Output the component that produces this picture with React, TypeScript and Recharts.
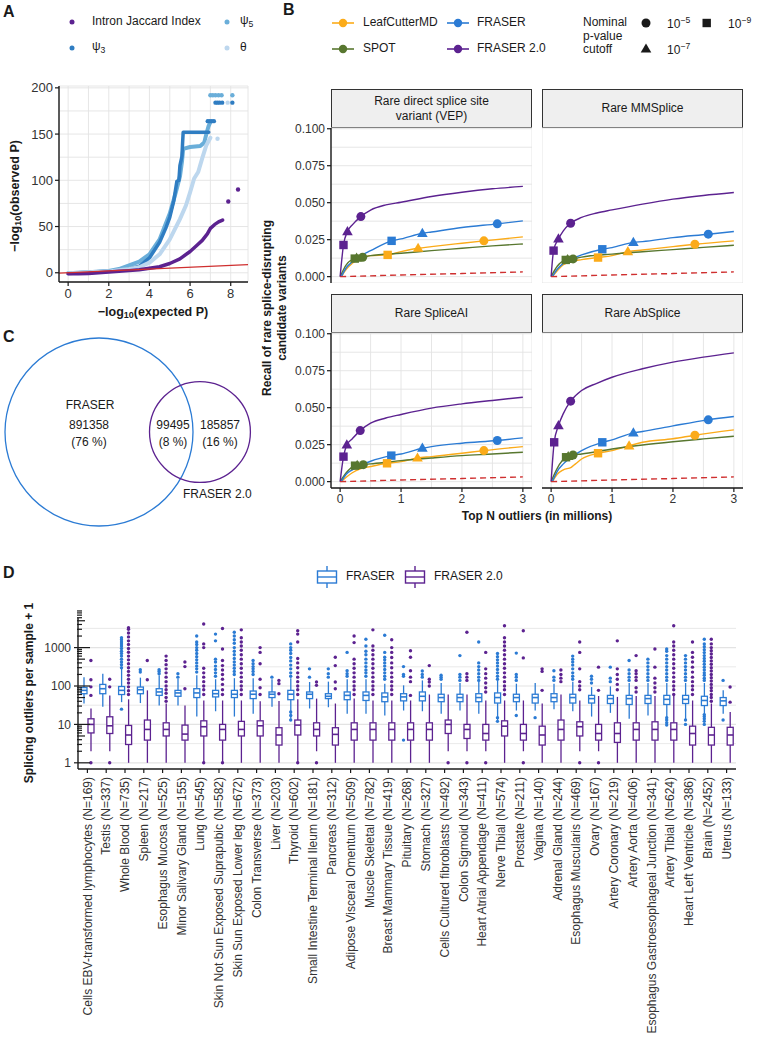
import React from 'react';
import { ComposedChart, Line, Scatter, Bar, XAxis, YAxis, CartesianGrid, ReferenceLine } from 'recharts';

const FONT = '"Liberation Sans", Arial, Helvetica, sans-serif';
const INK = '#1a1a1a';
const TICK_INK = '#333333';
const GRID = '#e3e3e3';
const AXIS = { stroke: INK, strokeWidth: 1.4 };

const BLUE = '#2b7bd4';
const PURPLE = '#5c2290';
const ORANGE = '#fbab19';
const GREEN = '#58772f';
const RED = '#cf2f2f';
const PSI3 = '#2f7dc2';
const PSI5 = '#6aaed9';
const THETA = '#bdd7ee';

// ---------------- A: QQ plot (expected vs observed -log10 P) ----------------
const qqLine = [[-0.45, -0.45], [8.85, 8.85]];
const qqJaccard = [[0, -1], [0.5, -1.2], [1, -0.8], [1.5, 0], [2, 0.8], [2.5, 1.5], [3, 2.3], [3.5, 3.2], [4, 4.8], [4.5, 6.5], [5, 10], [5.5, 15], [6, 23], [6.3, 29], [6.6, 35], [6.85, 42], [7.0, 48], [7.2, 52], [7.4, 55], [7.6, 57]];
const qqJaccardTop = [[7.88, 77], [8.36, 90]];
const qqPsi3 = [[0, -0.5], [1, 0.5], [2, 1.8], [2.5, 2.5], [3, 4], [3.5, 7], [4, 16], [4.5, 33], [4.8, 48], [5, 60], [5.2, 78], [5.35, 99], [5.45, 100], [5.5, 116], [5.6, 126], [5.63, 140], [5.66, 152], [6, 152], [6.5, 152], [6.92, 152]];
const qqPsi3Top = [[6.87, 164], [6.97, 164], [7.07, 164], [7.17, 164], [7.25, 184], [7.35, 184], [7.45, 184], [7.58, 184], [8.08, 184]];
const qqPsi5 = [[0, -0.5], [1, 0.5], [2, 2], [2.5, 4], [3, 8], [3.5, 12], [4, 20], [4.5, 36], [5, 64], [5.3, 87], [5.5, 104], [5.6, 120], [5.66, 134], [6, 136], [6.5, 137], [6.7, 141], [6.8, 150], [6.9, 158], [7.0, 163]];
const qqPsi5Top = [[7.0, 192], [7.12, 192], [7.25, 192], [7.4, 192], [7.55, 192], [8.08, 192]];
const qqTheta = [[0, -0.5], [1, 0.5], [2, 1.5], [3, 4], [3.5, 6], [4, 11], [4.5, 20], [5, 36], [5.5, 58], [5.8, 73], [6, 87], [6.2, 102], [6.4, 109], [6.6, 124], [6.8, 138], [7.0, 146]];
const qqThetaTop = [[7.35, 145], [7.85, 184]];
const aXTicks = [0, 1, 2, 3, 4, 5, 6, 7, 8];
const aXLabels = [0, 2, 4, 6, 8];
const aYTicks = [0, 25, 50, 75, 100, 125, 150, 175, 200];
const aYLabels = [0, 50, 100, 150, 200];

// ---------------- B: recall curves ----------------
const bXTicks = [0, 0.5, 1, 1.5, 2, 2.5, 3];
const bXLabels = [0, 1, 2, 3];
const bYTicks = [0, 0.0125, 0.025, 0.0375, 0.05, 0.0625, 0.075, 0.0875, 0.1];
const bYLabels = [0, 0.025, 0.05, 0.075, 0.1];
const randomBaseline = [[0, 0], [1, 0.0011], [2, 0.0021], [3, 0.0032]];

const vepLeaf = [[0.02, 0], [0.1, 0.005], [0.2, 0.009], [0.33, 0.0124], [0.5, 0.0142], [0.78, 0.0147], [1, 0.0169], [1.28, 0.0192], [1.5, 0.0203], [2, 0.0226], [2.36, 0.0242], [3, 0.0269]];
const vepSpot = [[0, 0], [0.1, 0.008], [0.24, 0.0122], [0.27, 0.0125], [0.37, 0.0131], [0.5, 0.0142], [1, 0.0158], [1.5, 0.0176], [2, 0.0192], [2.5, 0.0208], [3, 0.0221]];
const vepFraser = [[0.02, 0], [0.1, 0.006], [0.2, 0.01], [0.33, 0.014], [0.5, 0.0176], [0.845, 0.0242], [1, 0.0255], [1.35, 0.0293], [1.5, 0.0302], [2, 0.0332], [2.58, 0.0357], [3, 0.0377]];
const vepFraser2 = [[0, 0], [0.055, 0.0214], [0.12, 0.0305], [0.2, 0.035], [0.34, 0.0406], [0.5, 0.045], [0.75, 0.0485], [1, 0.0503], [1.5, 0.0542], [2, 0.0571], [2.5, 0.0594], [3, 0.061]];
const vepMarks = [
  [0.055, 0.0214, 'FRASER 2.0', '1e-9'], [0.12, 0.0305, 'FRASER 2.0', '1e-7'], [0.34, 0.0406, 'FRASER 2.0', '1e-5'],
  [0.845, 0.0242, 'FRASER', '1e-9'], [1.35, 0.0293, 'FRASER', '1e-7'], [2.58, 0.0357, 'FRASER', '1e-5'],
  [0.78, 0.0147, 'LeafCutterMD', '1e-9'], [1.28, 0.0192, 'LeafCutterMD', '1e-7'], [2.36, 0.0242, 'LeafCutterMD', '1e-5'],
  [0.24, 0.0122, 'SPOT', '1e-9'], [0.27, 0.0125, 'SPOT', '1e-7'], [0.37, 0.0131, 'SPOT', '1e-5'],
];

const mmsLeaf = [[0.02, 0], [0.1, 0.004], [0.2, 0.008], [0.33, 0.0102], [0.5, 0.0115], [0.77, 0.0129], [1, 0.0142], [1.26, 0.0169], [1.5, 0.018], [2, 0.0203], [2.36, 0.0219], [3, 0.0242]];
const mmsSpot = [[0, 0], [0.1, 0.007], [0.24, 0.0113], [0.27, 0.0116], [0.36, 0.012], [0.5, 0.0132], [1, 0.0152], [1.5, 0.0168], [2, 0.0183], [2.5, 0.0198], [3, 0.0212]];
const mmsFraser = [[0.02, 0], [0.1, 0.005], [0.2, 0.009], [0.33, 0.012], [0.5, 0.0147], [0.84, 0.0185], [1, 0.0196], [1.35, 0.0232], [1.5, 0.0237], [2, 0.0264], [2.58, 0.0287], [3, 0.0305]];
const mmsFraser2 = [[0, 0], [0.04, 0.0176], [0.12, 0.0255], [0.2, 0.031], [0.32, 0.0361], [0.5, 0.04], [0.75, 0.043], [1, 0.0451], [1.5, 0.049], [2, 0.0524], [2.5, 0.0549], [3, 0.0569]];
const mmsMarks = [
  [0.04, 0.0176, 'FRASER 2.0', '1e-9'], [0.12, 0.0255, 'FRASER 2.0', '1e-7'], [0.32, 0.0361, 'FRASER 2.0', '1e-5'],
  [0.84, 0.0185, 'FRASER', '1e-9'], [1.35, 0.0232, 'FRASER', '1e-7'], [2.58, 0.0287, 'FRASER', '1e-5'],
  [0.77, 0.0129, 'LeafCutterMD', '1e-9'], [1.26, 0.0169, 'LeafCutterMD', '1e-7'], [2.36, 0.0219, 'LeafCutterMD', '1e-5'],
  [0.24, 0.0113, 'SPOT', '1e-9'], [0.27, 0.0116, 'SPOT', '1e-7'], [0.36, 0.012, 'SPOT', '1e-5'],
];

const saiLeaf = [[0.02, 0], [0.1, 0.003], [0.2, 0.006], [0.33, 0.0086], [0.5, 0.0102], [0.77, 0.0124], [1, 0.0135], [1.27, 0.016], [1.5, 0.0169], [2, 0.0192], [2.36, 0.021], [3, 0.0237]];
const saiSpot = [[0, 0], [0.1, 0.006], [0.245, 0.0108], [0.28, 0.011], [0.38, 0.0115], [0.5, 0.012], [1, 0.0142], [1.5, 0.016], [2, 0.0176], [2.5, 0.0187], [3, 0.0199]];
const saiFraser = [[0.02, 0], [0.1, 0.005], [0.2, 0.008], [0.33, 0.0108], [0.5, 0.0138], [0.84, 0.0176], [1, 0.0187], [1.35, 0.0226], [1.5, 0.0237], [2, 0.026], [2.58, 0.0278], [3, 0.0296]];
const saiFraser2 = [[0, 0], [0.055, 0.0169], [0.11, 0.0248], [0.2, 0.029], [0.33, 0.0345], [0.5, 0.0395], [0.75, 0.043], [1, 0.0454], [1.5, 0.0497], [2, 0.0526], [2.5, 0.0549], [3, 0.0571]];
const saiMarks = [
  [0.055, 0.0169, 'FRASER 2.0', '1e-9'], [0.11, 0.0248, 'FRASER 2.0', '1e-7'], [0.33, 0.0345, 'FRASER 2.0', '1e-5'],
  [0.84, 0.0176, 'FRASER', '1e-9'], [1.35, 0.0226, 'FRASER', '1e-7'], [2.58, 0.0278, 'FRASER', '1e-5'],
  [0.77, 0.0124, 'LeafCutterMD', '1e-9'], [1.27, 0.016, 'LeafCutterMD', '1e-7'], [2.36, 0.021, 'LeafCutterMD', '1e-5'],
  [0.245, 0.0108, 'SPOT', '1e-9'], [0.28, 0.011, 'SPOT', '1e-7'], [0.38, 0.0115, 'SPOT', '1e-5'],
];

const absLeaf = [[0.02, 0], [0.1, 0.005], [0.2, 0.008], [0.33, 0.0097], [0.4, 0.012], [0.5, 0.0153], [0.77, 0.0192], [1, 0.021], [1.28, 0.0242], [1.5, 0.0266], [2, 0.029], [2.36, 0.0314], [3, 0.035]];
const absSpot = [[0, 0], [0.1, 0.009], [0.245, 0.0165], [0.28, 0.017], [0.36, 0.018], [0.5, 0.0187], [1, 0.0221], [1.5, 0.0248], [2, 0.027], [2.5, 0.0289], [3, 0.0307]];
const absFraser = [[0.02, 0], [0.1, 0.007], [0.2, 0.012], [0.33, 0.0165], [0.5, 0.021], [0.84, 0.0266], [1, 0.0282], [1.35, 0.033], [1.5, 0.0339], [2, 0.0377], [2.58, 0.0418], [3, 0.044]];
const absFraser2 = [[0, 0], [0.05, 0.0266], [0.12, 0.0379], [0.2, 0.046], [0.32, 0.0544], [0.5, 0.0616], [0.75, 0.0665], [1, 0.0706], [1.5, 0.0763], [2, 0.0808], [2.5, 0.0842], [3, 0.0871]];
const absMarks = [
  [0.05, 0.0266, 'FRASER 2.0', '1e-9'], [0.12, 0.0379, 'FRASER 2.0', '1e-7'], [0.32, 0.0544, 'FRASER 2.0', '1e-5'],
  [0.84, 0.0266, 'FRASER', '1e-9'], [1.35, 0.033, 'FRASER', '1e-7'], [2.58, 0.0418, 'FRASER', '1e-5'],
  [0.77, 0.0192, 'LeafCutterMD', '1e-9'], [1.28, 0.0242, 'LeafCutterMD', '1e-7'], [2.36, 0.0314, 'LeafCutterMD', '1e-5'],
  [0.245, 0.0165, 'SPOT', '1e-9'], [0.28, 0.017, 'SPOT', '1e-7'], [0.36, 0.018, 'SPOT', '1e-5'],
];

// ---------------- C: Venn ----------------
const vennNames = ['FRASER', 'FRASER 2.0'];
const vennCounts = [891358, 99495, 185857]; // FRASER only, both, FRASER 2.0 only

// ---------------- D: outliers per sample ----------------
const tissueNames = [
  'Cells EBV-transformed lymphocytes (N=169)', 'Testis (N=337)', 'Whole Blood (N=735)', 'Spleen (N=217)',
  'Esophagus Mucosa (N=525)', 'Minor Salivary Gland (N=155)', 'Lung (N=545)', 'Skin Not Sun Exposed Suprapubic (N=582)',
  'Skin Sun Exposed Lower leg (N=672)', 'Colon Transverse (N=373)', 'Liver (N=203)', 'Thyroid (N=602)',
  'Small Intestine Terminal Ileum (N=181)', 'Pancreas (N=312)', 'Adipose Visceral Omentum (N=509)', 'Muscle Skeletal (N=782)',
  'Breast Mammary Tissue (N=419)', 'Pituitary (N=268)', 'Stomach (N=327)', 'Cells Cultured fibroblasts (N=492)',
  'Colon Sigmoid (N=343)', 'Heart Atrial Appendage (N=411)', 'Nerve Tibial (N=574)', 'Prostate (N=211)',
  'Vagina (N=140)', 'Adrenal Gland (N=244)', 'Esophagus Muscularis (N=469)', 'Ovary (N=167)',
  'Artery Coronary (N=219)', 'Artery Aorta (N=406)', 'Esophagus Gastroesophageal Junction (N=341)', 'Artery Tibial (N=624)',
  'Heart Left Ventricle (N=386)', 'Brain (N=2452)', 'Uterus (N=133)',
];
// [lower whisker, Q1, median, Q3, upper whisker]
const fraserStats = [
  [35, 63, 77, 91, 170], [29, 63, 85, 110, 208], [38, 60, 77, 97, 280], [36, 63, 80, 94, 165],
  [31, 57, 70, 85, 190], [31, 54, 66, 77, 155], [16, 50, 66, 85, 190], [22, 52, 63, 77, 150],
  [16, 50, 61, 77, 160], [19, 47, 61, 74, 160], [29, 50, 61, 70, 150], [14, 44, 61, 77, 160],
  [26, 47, 61, 70, 127], [28, 47, 54, 63, 130], [19, 44, 57, 70, 150], [19, 42, 57, 70, 150],
  [17, 39, 52, 66, 115], [23, 41, 52, 63, 104], [22, 41, 54, 70, 140], [19, 39, 50, 61, 120],
  [23, 39, 50, 61, 120], [19, 39, 50, 63, 130], [13, 36, 50, 66, 140], [23, 39, 50, 61, 115],
  [23, 36, 50, 61, 120], [25, 39, 50, 63, 115], [22, 36, 50, 61, 130], [16, 36, 47, 57, 94],
  [20, 35, 47, 57, 98], [14, 33, 47, 57, 120], [17, 35, 47, 57, 120], [13, 33, 45, 57, 120],
  [13, 35, 45, 57, 120], [13, 31, 42, 54, 120], [19, 31, 41, 50, 77],
];
const fraser2Stats = [
  [2, 6, 10, 14, 26], [2, 5.8, 9.2, 15.8, 57], [1, 3, 5.3, 9.4, 45], [1, 3.9, 7.4, 13, 77],
  [1, 5, 7.4, 11, 35], [1, 3.9, 5.6, 9.6, 31], [1, 5, 8.7, 12.4, 42], [1, 3.9, 7.4, 10, 42],
  [1, 5, 7.4, 12, 42], [1, 5, 9.2, 12.4, 40], [1, 2.9, 5.3, 8.2, 41], [1, 5.3, 9.6, 13, 45],
  [2, 5, 7.4, 11, 47], [1, 2.9, 5.5, 8.2, 35], [1, 3.9, 7.4, 11, 47], [1, 3.9, 7.4, 11, 42],
  [1, 3.9, 7.4, 11, 42], [1, 3.9, 7.4, 11, 42], [1, 3.9, 7.4, 11, 60], [2, 5.8, 10, 13, 60],
  [2, 4.3, 7.4, 10, 60], [2, 3.9, 5.8, 10, 42], [1, 5, 9, 12.4, 42], [2, 3.9, 5.8, 10, 42],
  [1, 2.9, 5.3, 9, 35], [1, 3.9, 7.4, 13, 60], [2, 5, 8.7, 11.7, 42], [2, 3.9, 5.8, 10, 55],
  [1, 3.4, 5.8, 11, 52], [1, 3.9, 7.4, 11, 55], [1, 3.9, 7.4, 11.7, 55], [1, 3.9, 7.4, 11, 55],
  [1, 2.9, 5.8, 9, 42], [1, 2.9, 5.3, 8.4, 35], [1, 2.9, 5.3, 8.4, 21],
];
const fraserOutliers = [
  [], [], [25, 300, 360, 420, 500, 600, 700, 800, 950, 1100, 1250, 1400, 1600, 1800], [230, 265],
  [210, 240, 265], [170, 210], [230, 280, 330, 400, 480, 580, 700, 850, 1000, 1200, 1400, 2000], [180, 220, 270, 330, 420, 500, 1500, 2250],
  [200, 240, 290, 350, 420, 520, 650, 800, 1000, 1300, 1600, 2000, 2500], [200, 240, 280, 320, 380, 460], [170], [13, 17, 21, 180, 220, 280, 350, 450, 550, 700, 850, 1000, 1250],
  [170, 280], [170, 210, 280], [180, 210, 250, 750], [180, 220, 260, 320, 400, 500, 650, 800, 1100, 1650],
  [150, 180, 220, 270, 330, 400, 480, 560, 750, 2100], [3.9, 180, 200, 320], [170, 200, 245], [150, 170, 190],
  [140, 170, 200, 620], [140, 170, 210, 260, 320, 400, 1400], [12, 15, 150, 180, 220, 270, 330, 400, 480, 580, 700], [17, 140, 170, 200, 720],
  [15], [140, 170, 250], [150, 180, 220, 280, 350, 420, 500, 600], [120, 150, 180],
  [130, 160, 310], [140, 170, 210, 260, 460], [140, 170, 210, 260, 320, 400, 500], [9.6, 11, 13, 15, 140, 170, 210, 260, 320, 400, 500, 620, 800, 920],
  [10, 13, 140, 170, 210, 260, 320, 400, 500, 620], [10, 12, 14, 16, 18, 140, 160, 190, 220, 260, 310, 370, 440, 520, 620, 740, 880, 1050, 1250, 1650], [13, 140],
];
const fraser2Outliers = [
  [1, 57, 95, 145, 460], [1, 95, 150], [60, 75, 95, 120, 150, 190, 240, 300, 380, 480, 600, 760, 950, 1200, 1500, 1900, 2400, 3000, 3300], [145, 460],
  [40, 50, 65, 80, 100, 130, 170, 220, 280, 360, 460, 600], [85, 320, 420], [1, 60, 80, 100, 130, 170, 220, 290, 1000, 1250, 4100], [1, 60, 80, 110, 150, 200, 260, 340, 460, 920, 3150],
  [60, 80, 100, 130, 170, 220, 290, 380, 500, 650, 850, 1100, 1400, 1800, 2900], [60, 90, 150, 380, 750, 1000], [63, 115, 140], [1, 60, 80, 100, 130, 170, 220, 300, 400, 520, 1400, 2250, 2750],
  [1, 104, 127], [85, 127, 340, 560], [60, 80, 100, 130, 170, 220, 290, 380, 500, 1350, 2000], [60, 80, 100, 130, 170, 220, 290, 380, 500, 650, 850, 1100, 2900],
  [60, 80, 100, 130, 170, 220, 300, 400, 550, 750, 1000, 1600], [57, 130, 170, 250, 560, 830], [100, 127, 150, 340], [1],
  [1, 140, 170, 210, 2500], [1, 70, 90, 120, 160, 210, 280, 750], [60, 80, 100, 130, 170, 220, 290, 380, 500, 650, 850, 1100, 1400, 1800, 3700], [1, 540, 2750],
  [77, 240, 280], [130, 160, 200, 260], [1, 80, 100, 130, 280, 750, 1400], [1, 77, 310],
  [80, 110, 150, 200, 280, 1500], [70, 90, 140, 170, 210, 250, 620], [70, 90, 120, 160, 310, 920], [60, 80, 100, 130, 170, 220, 290, 380, 500, 650, 850, 1100, 1400, 3700],
  [60, 80, 100, 130, 170, 230, 310, 420, 560, 750, 1400], [40, 50, 60, 75, 90, 110, 135, 165, 200, 245, 300, 370, 450, 550, 680, 830, 1000, 1250, 1650], [38, 94],
];
const dDecades = [1, 10, 100, 1000];
const dMinorSteps = [2, 3, 4, 5, 6, 7, 8, 9];
const dGridBreaks = [1, 3.1623, 10, 31.623, 100, 316.23, 1000, 3162.3];

// ---------------- helpers ----------------
const pts = (a: number[][]) => a.map(([x, y]) => ({ x, y }));
const markPts = (a: any[][]) => a.map(([x, y, m, p]) => ({ x, y, m, p }));
const isIn = (list: number[], v: number) => list.some((m) => Math.abs(m - v) < 1e-9);

const METHOD_COLORS: Record<string, string> = { LeafCutterMD: ORANGE, SPOT: GREEN, FRASER: BLUE, 'FRASER 2.0': PURPLE };

const xTick = (labels: number[], fmt: (v: number) => string, fs: number) => (p: any) => {
  const v = p.payload.value;
  if (!isIn(labels, v)) return <g />;
  return (
    <g>
      <line x1={p.x} x2={p.x} y1={p.y} y2={p.y + 4} stroke={INK} strokeWidth={1.2} />
      <text x={p.x} y={p.y + 6} dy="0.75em" textAnchor="middle" fontSize={fs} fill={TICK_INK} fontFamily={FONT}>{fmt(v)}</text>
    </g>
  );
};
const yTick = (labels: number[], fmt: (v: number) => string, fs: number) => (p: any) => {
  const v = p.payload.value;
  if (!isIn(labels, v)) return <g />;
  return (
    <g>
      <line x1={p.x - 4} x2={p.x} y1={p.y} y2={p.y} stroke={INK} strokeWidth={1.2} />
      <text x={p.x - 6} y={p.y} dy="0.35em" textAnchor="end" fontSize={fs} fill={TICK_INK} fontFamily={FONT}>{fmt(v)}</text>
    </g>
  );
};
const dot = (r: number, color: string) => (p: any) => <circle cx={p.cx} cy={p.cy} r={r} fill={color} />;

const MarkShape = (p: any) => {
  const { cx, cy, payload } = p;
  const c = METHOD_COLORS[payload.m];
  if (payload.p === '1e-9') return <rect x={cx - 4.2} y={cy - 4.2} width={8.4} height={8.4} fill={c} />;
  if (payload.p === '1e-7') return <path d={`M${cx},${cy - 5.6}L${cx + 5.3},${cy + 3.6}L${cx - 5.3},${cy + 3.6}Z`} fill={c} />;
  return <circle cx={cx} cy={cy} r={4.5} fill={c} />;
};

type TP = { x: number; y: number; size?: number; bold?: boolean; align?: 'start' | 'middle' | 'end'; rotate?: number; color?: string; children: React.ReactNode };
const Txt = ({ x, y, size = 12, bold = false, align = 'start', rotate = 0, color = INK, children }: TP) => {
  const tx = align === 'middle' ? '-50%' : align === 'end' ? '-100%' : '0';
  return (
    <div style={{ position: 'absolute', left: x, top: y, transform: `translate(${tx}, -50%) rotate(${rotate}deg)`, fontSize: size, fontWeight: bold ? 700 : 400, color, whiteSpace: 'nowrap', lineHeight: 1.15, fontFamily: FONT }}>
      {children}
    </div>
  );
};
const Sub = ({ children }: any) => <span style={{ fontSize: '0.72em', verticalAlign: '-0.25em' }}>{children}</span>;
const Sup = ({ children }: any) => <span style={{ fontSize: '0.72em', verticalAlign: '0.55em' }}>{children}</span>;

// ---------------- panels ----------------
function PanelA() {
  return (
    <>
      <div style={{ position: 'absolute', left: 0, top: 0 }}>
        <ComposedChart width={252} height={305} margin={{ top: 86, right: 4, bottom: 0, left: 0 }}>
          <CartesianGrid stroke={GRID} strokeWidth={0.9} />
          <XAxis type="number" dataKey="x" domain={[-0.45, 8.85]} ticks={aXTicks} interval={0} allowDataOverflow height={23}
            tickSize={0} tickMargin={0} tickLine={false} axisLine={AXIS} tick={xTick(aXLabels, (v) => String(v), 13)} />
          <YAxis type="number" domain={[-10, 202]} ticks={aYTicks} interval={0} allowDataOverflow width={59}
            tickSize={0} tickMargin={0} tickLine={false} axisLine={AXIS} tick={yTick(aYLabels, (v) => String(v), 13)} />
          <Line data={pts(qqPsi5)} dataKey="y" type="linear" stroke={PSI5} strokeWidth={4} strokeLinecap="round" strokeLinejoin="round" dot={false} isAnimationActive={false} />
          <Line data={pts(qqPsi3)} dataKey="y" type="linear" stroke={PSI3} strokeWidth={3.5} strokeLinecap="round" strokeLinejoin="round" dot={false} isAnimationActive={false} />
          <Line data={pts(qqTheta)} dataKey="y" type="linear" stroke={THETA} strokeWidth={4} strokeLinecap="round" strokeLinejoin="round" dot={false} isAnimationActive={false} />
          <Line data={pts(qqJaccard)} dataKey="y" type="linear" stroke={PURPLE} strokeWidth={3.5} strokeLinecap="round" strokeLinejoin="round" dot={false} isAnimationActive={false} />
          <Scatter data={pts(qqPsi5Top)} dataKey="y" shape={dot(2.2, PSI5)} isAnimationActive={false} />
          <Scatter data={pts(qqPsi3Top)} dataKey="y" shape={dot(2.2, PSI3)} isAnimationActive={false} />
          <Scatter data={pts(qqThetaTop)} dataKey="y" shape={dot(2.2, THETA)} isAnimationActive={false} />
          <Scatter data={pts(qqJaccardTop)} dataKey="y" shape={dot(2.2, PURPLE)} isAnimationActive={false} />
          <Line data={pts(qqLine)} dataKey="y" type="linear" stroke={RED} strokeWidth={1.3} dot={false} isAnimationActive={false} />
        </ComposedChart>
      </div>
      {/* legend */}
      <svg style={{ position: 'absolute', left: 0, top: 0 }} width={250} height={60}>
        <circle cx={72} cy={22} r={2.5} fill={PURPLE} />
        <circle cx={227} cy={22} r={2.5} fill={PSI5} />
        <circle cx={72} cy={48} r={2.5} fill={PSI3} />
        <circle cx={227} cy={48} r={2.5} fill={THETA} />
      </svg>
      <Txt x={92} y={22}>Intron Jaccard Index</Txt>
      <Txt x={240} y={22}>ψ<Sub>5</Sub></Txt>
      <Txt x={92} y={48}>ψ<Sub>3</Sub></Txt>
      <Txt x={240} y={48}>θ</Txt>
      <Txt x={16} y={196} bold rotate={-90} align="middle" size={12.5}>−log<Sub>10</Sub>(observed P)</Txt>
      <Txt x={153} y={313} bold align="middle" size={12.5}>−log<Sub>10</Sub>(expected P)</Txt>
    </>
  );
}

const facets = [
  { title: ['Rare direct splice site', 'variant (VEP)'], lines: [vepLeaf, vepSpot, vepFraser, vepFraser2], marks: vepMarks, left: 331, top: 128, yAxis: true, xAxis: false },
  { title: ['Rare MMSplice'], lines: [mmsLeaf, mmsSpot, mmsFraser, mmsFraser2], marks: mmsMarks, left: 542, top: 128, yAxis: false, xAxis: false },
  { title: ['Rare SpliceAI'], lines: [saiLeaf, saiSpot, saiFraser, saiFraser2], marks: saiMarks, left: 331, top: 333, yAxis: true, xAxis: true },
  { title: ['Rare AbSplice'], lines: [absLeaf, absSpot, absFraser, absFraser2], marks: absMarks, left: 542, top: 333, yAxis: false, xAxis: true },
];
const lineColors = [ORANGE, GREEN, BLUE, PURPLE];
const B_W = 201;
const B_H = 155;
const B_YW = 51;
const B_PAD = 8;

function Facet({ f }: any) {
  const yw = f.yAxis ? B_YW : 0;
  const xh = f.xAxis ? 22 : 0;
  return (
    <>
      <div style={{ position: 'absolute', left: f.left, top: f.top - 39, width: B_W, height: 39, boxSizing: 'border-box', border: '1px solid #333', background: '#efefef', display: 'flex', flexDirection: 'column', justifyContent: 'center', alignItems: 'center', fontFamily: FONT, fontSize: 12, color: INK, lineHeight: 1.2 }}>
        {f.title.map((t: string) => <div key={t}>{t}</div>)}
      </div>
      <div style={{ position: 'absolute', left: f.left - yw, top: f.top - B_PAD }}>
        <ComposedChart width={B_W + yw} height={B_H + xh + B_PAD} margin={{ top: B_PAD, right: 0, bottom: 0, left: 0 }}>
          <CartesianGrid stroke={GRID} strokeWidth={0.9} />
          <XAxis type="number" dataKey="x" domain={[-0.15, 3.15]} ticks={bXTicks} interval={0} allowDataOverflow height={xh}
            tickSize={0} tickMargin={0} tickLine={false} axisLine={f.xAxis ? AXIS : false}
            tick={f.xAxis ? xTick(bXLabels, (v) => String(v), 12) : false} />
          <YAxis type="number" domain={[-0.0043, 0.1005]} ticks={bYTicks} interval={0} allowDataOverflow width={yw}
            tickSize={0} tickMargin={0} tickLine={false} axisLine={f.yAxis ? AXIS : false}
            tick={f.yAxis ? yTick(bYLabels, (v) => v.toFixed(3), 12) : false} />
          {f.lines.map((l: number[][], i: number) => (
            <Line key={i} data={pts(l)} dataKey="y" type="monotone" stroke={lineColors[i]} strokeWidth={1.4} dot={false} isAnimationActive={false} />
          ))}
          <Line data={pts(randomBaseline)} dataKey="y" type="linear" stroke={RED} strokeWidth={1.4} strokeDasharray="6 4" dot={false} isAnimationActive={false} />
          <Scatter data={markPts(f.marks)} dataKey="y" shape={MarkShape} isAnimationActive={false} />
        </ComposedChart>
      </div>
    </>
  );
}

function LegendLine({ x, y, color }: any) {
  return (
    <svg style={{ position: 'absolute', left: x, top: y - 6 }} width={22} height={12}>
      <line x1={0} x2={22} y1={6} y2={6} stroke={color} strokeWidth={1.6} />
      <circle cx={11} cy={6} r={4.2} fill={color} />
    </svg>
  );
}

function PanelB() {
  return (
    <>
      <LegendLine x={332} y={23} color={ORANGE} />
      <Txt x={363} y={23}>LeafCutterMD</Txt>
      <LegendLine x={447} y={23} color={BLUE} />
      <Txt x={477} y={23}>FRASER</Txt>
      <LegendLine x={332} y={49} color={GREEN} />
      <Txt x={363} y={49}>SPOT</Txt>
      <LegendLine x={447} y={49} color={PURPLE} />
      <Txt x={477} y={49}>FRASER 2.0</Txt>
      <Txt x={583} y={23}>Nominal</Txt>
      <Txt x={583} y={37}>p-value</Txt>
      <Txt x={583} y={50}>cutoff</Txt>
      <svg style={{ position: 'absolute', left: 630, top: 10 }} width={90} height={50}>
        <circle cx={16} cy={13} r={4.5} fill={INK} />
        <rect x={72.5} y={8.8} width={8.4} height={8.4} fill={INK} />
        <path d="M16,33.4L21.3,42.6L10.7,42.6Z" fill={INK} />
      </svg>
      <Txt x={667} y={24}>10<Sup>−5</Sup></Txt>
      <Txt x={728} y={24}>10<Sup>−9</Sup></Txt>
      <Txt x={667} y={50}>10<Sup>−7</Sup></Txt>
      {facets.map((f, i) => <Facet key={i} f={f} />)}
      <Txt x={268} y={308} bold rotate={-90} align="middle">Recall of rare splice-disrupting</Txt>
      <Txt x={283} y={308} bold rotate={-90} align="middle">candidate variants</Txt>
      <Txt x={537} y={517} bold align="middle">Top N outliers (in millions)</Txt>
    </>
  );
}

// Venn layout: circle area proportional to set size, centres on one row
const VENN_W = 260;
const VENN_H = 210;
const VENN_PX = 94;
const VENN_X0 = 99;
const VENN_Y0 = 102;
const VENN_DIST = 1.074;
const vennColors = [BLUE, PURPLE];

function PanelC() {
  const totalA = vennCounts[0] + vennCounts[1];
  const totalB = vennCounts[1] + vennCounts[2];
  const all = vennCounts[0] + vennCounts[1] + vennCounts[2];
  const circles = [
    { x: 0, y: 0, r: 1, k: 0 },
    { x: VENN_DIST, y: 0, r: Math.sqrt(totalB / totalA), k: 1 },
  ];
  const pct = (n: number) => `(${Math.round((100 * n) / all)} %)`;
  const shape = (p: any) => <circle cx={p.cx} cy={p.cy} r={p.payload.r * VENN_PX} fill="none" stroke={vennColors[p.payload.k]} strokeWidth={1.3} />;
  return (
    <>
      <div style={{ position: 'absolute', left: 0, top: 330 }}>
        <ComposedChart width={VENN_W} height={VENN_H} margin={{ top: 0, right: 0, bottom: 0, left: 0 }}>
          <XAxis type="number" dataKey="x" hide domain={[-VENN_X0 / VENN_PX, (VENN_W - VENN_X0) / VENN_PX]} allowDataOverflow />
          <YAxis type="number" hide domain={[-(VENN_H - VENN_Y0) / VENN_PX, VENN_Y0 / VENN_PX]} allowDataOverflow />
          <Scatter data={circles} dataKey="y" shape={shape} isAnimationActive={false} />
        </ComposedChart>
      </div>
      <Txt x={90} y={406} align="middle">{vennNames[0]}</Txt>
      <Txt x={89} y={426} align="middle">{vennCounts[0]}</Txt>
      <Txt x={89} y={443} align="middle">{pct(vennCounts[0])}</Txt>
      <Txt x={173} y={426} align="middle">{vennCounts[1]}</Txt>
      <Txt x={173} y={443} align="middle">{pct(vennCounts[1])}</Txt>
      <Txt x={220} y={426} align="middle">{vennCounts[2]}</Txt>
      <Txt x={220} y={443} align="middle">{pct(vennCounts[2])}</Txt>
      <Txt x={183} y={495}>{vennNames[1]}</Txt>
    </>
  );
}

const N_T = tissueNames.length;
const DODGE = 3.5 / 18.8;
const dRows = tissueNames.map((name, i) => ({
  name,
  f: [fraserStats[i][1], fraserStats[i][3]],
  g: [fraser2Stats[i][1], fraser2Stats[i][3]],
  fs: fraserStats[i],
  gs: fraser2Stats[i],
}));
const fOut = fraserOutliers.flatMap((vals, i) => vals.map((v) => ({ i, v })));
const gOut = fraser2Outliers.flatMap((vals, i) => vals.map((v) => ({ i, v })));
const logTicks = dDecades.flatMap((d) => [d, ...dMinorSteps.map((m) => m * d)]);

const boxShape = (color: string, key: string) => (p: any) => {
  const { x, width, payload } = p;
  const [lo, q1, med, q3, hi] = payload[key];
  const top = Math.min(p.y, p.y + p.height);
  const bot = Math.max(p.y, p.y + p.height);
  const k = (bot - top) / (Math.log10(q3) - Math.log10(q1));
  const py = (v: number) => bot - (Math.log10(v) - Math.log10(q1)) * k;
  const cx = x + width / 2;
  return (
    <g>
      <line x1={cx} x2={cx} y1={py(hi)} y2={top} stroke={color} strokeWidth={1.3} />
      <line x1={cx} x2={cx} y1={bot} y2={py(lo)} stroke={color} strokeWidth={1.3} />
      <rect x={x} y={top} width={width} height={bot - top} fill="#fff" stroke={color} strokeWidth={1.3} />
      <line x1={x} x2={x + width} y1={py(med)} y2={py(med)} stroke={color} strokeWidth={1.6} />
    </g>
  );
};

const LogTick = (p: any) => {
  const v = p.payload.value;
  const dec = isIn(dDecades, v);
  const mant = Math.round(v / Math.pow(10, Math.floor(Math.log10(v) + 1e-9)));
  const len = dec ? 12 : mant === 5 ? 7 : 4;
  return (
    <g>
      <line x1={p.x - (dec ? 4 : 1)} x2={p.x + len} y1={p.y} y2={p.y} stroke={INK} strokeWidth={1.2} />
      {dec && <text x={p.x - 7} y={p.y} dy="0.35em" textAnchor="end" fontSize={12} fill={TICK_INK} fontFamily={FONT}>{v}</text>}
    </g>
  );
};
const TissueTick = (p: any) => (
  <g>
    <line x1={p.x} x2={p.x} y1={p.y} y2={p.y + 4} stroke={INK} strokeWidth={1.2} />
    <text x={p.x} y={p.y + 8} transform={`rotate(-90 ${p.x} ${p.y + 8})`} dy="0.35em" textAnchor="end" fontSize={12} fill={TICK_INK} fontFamily={FONT}>{p.payload.value}</text>
  </g>
);

function BoxGlyph({ x, y, color }: any) {
  return (
    <svg style={{ position: 'absolute', left: x, top: y - 11 }} width={22} height={22}>
      <line x1={11} x2={11} y1={0} y2={5} stroke={color} strokeWidth={1.4} />
      <line x1={11} x2={11} y1={17} y2={22} stroke={color} strokeWidth={1.4} />
      <rect x={1.5} y={5} width={19} height={12} fill="#fff" stroke={color} strokeWidth={1.4} />
      <line x1={1.5} x2={20.5} y1={11} y2={11} stroke={color} strokeWidth={1.4} />
    </svg>
  );
}

function PanelD() {
  return (
    <>
      <BoxGlyph x={316} y={577} color={BLUE} />
      <Txt x={346} y={577}>FRASER</Txt>
      <BoxGlyph x={404} y={577} color={PURPLE} />
      <Txt x={434} y={577}>FRASER 2.0</Txt>
      <div style={{ position: 'absolute', left: 0, top: 600 }}>
        <ComposedChart width={740} height={434} data={dRows} barSize={6} barGap={1} margin={{ top: 18, right: 4, bottom: 0, left: 0 }}>
          <XAxis xAxisId="cat" dataKey="name" type="category" interval={0} height={265} tickSize={0} tickMargin={0} tickLine={false} axisLine={AXIS} tick={TissueTick} />
          <XAxis xAxisId="n1" type="number" dataKey="i" hide domain={[-0.5 + DODGE, N_T - 0.5 + DODGE]} allowDataOverflow />
          <XAxis xAxisId="n2" type="number" dataKey="i" hide domain={[-0.5 - DODGE, N_T - 0.5 - DODGE]} allowDataOverflow />
          <YAxis yAxisId="log" scale="log" type="number" domain={[0.69, 5900]} allowDataOverflow ticks={logTicks} interval={0} width={78}
            tickSize={0} tickMargin={0} tickLine={false} axisLine={AXIS} tick={LogTick} />
          {dGridBreaks.map((v) => (
            <ReferenceLine key={v} xAxisId="cat" yAxisId="log" y={v} stroke={GRID} strokeWidth={isIn(dDecades, v) ? 1.2 : 0.8} {...({ zIndex: -50 } as any)} />
          ))}
          <Bar xAxisId="cat" yAxisId="log" dataKey="f" shape={boxShape(BLUE, 'fs')} isAnimationActive={false} />
          <Bar xAxisId="cat" yAxisId="log" dataKey="g" shape={boxShape(PURPLE, 'gs')} isAnimationActive={false} />
          <Scatter xAxisId="n1" yAxisId="log" data={fOut} dataKey="v" shape={dot(1.7, BLUE)} isAnimationActive={false} />
          <Scatter xAxisId="n2" yAxisId="log" data={gOut} dataKey="v" shape={dot(1.7, PURPLE)} isAnimationActive={false} />
        </ComposedChart>
      </div>
      <Txt x={30} y={693} bold rotate={-90} align="middle">Splicing outliers per sample + 1</Txt>
    </>
  );
}

export default function App() {
  return (
    <div style={{ position: 'absolute', left: 0, top: 0, width: 757, height: 1041, background: '#fff', fontFamily: FONT, overflow: 'hidden' }}>
      <PanelA />
      <PanelB />
      <PanelC />
      <PanelD />
      <Txt x={3} y={12} bold size={16}>A</Txt>
      <Txt x={283} y={10} bold size={16}>B</Txt>
      <Txt x={3} y={337} bold size={16}>C</Txt>
      <Txt x={3} y={573} bold size={16}>D</Txt>
    </div>
  );
}
